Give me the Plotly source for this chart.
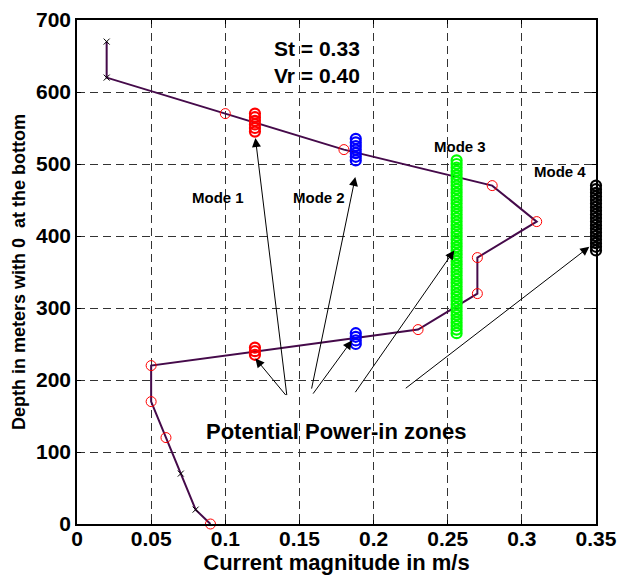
import plotly.graph_objects as go

# ---- data ----
path_x = [0.02, 0.02, 0.10, 0.18, 0.28, 0.31, 0.27, 0.27, 0.23, 0.05, 0.05, 0.06, 0.07, 0.08, 0.09]
path_y = [670, 620, 570, 520, 470, 420, 370, 320, 270, 220, 170, 120, 70, 20, 0]

circle_x = [0.10, 0.18, 0.28, 0.31, 0.27, 0.27, 0.23, 0.05, 0.05, 0.06, 0.09]
circle_y = [570, 520, 470, 420, 370, 320, 270, 220, 170, 120, 0]

cross_x = [0.02, 0.02, 0.07, 0.08]
cross_y = [670, 620, 70, 20]

mode1_x = 0.12
mode1_y = [545, 550, 555, 560, 565, 570, 235, 240, 245]
mode2_x = 0.188
mode2_y = [505, 510, 515, 520, 525, 530, 535, 250, 255, 260, 265]
mode3_x = 0.256
mode3_y = [265, 270, 275, 280, 285, 290, 295, 300, 305, 310, 315, 320, 325, 330,
           335, 340, 345, 350, 355, 360, 365, 370, 375, 380, 385, 390, 395, 400,
           405, 410, 415, 420, 425, 430, 435, 440, 445, 450, 455, 460, 465, 470,
           475, 480, 485, 490, 495, 500, 505]
mode4_x = 0.35
mode4_y = [380, 385, 390, 395, 400, 405, 410, 415, 420, 425, 430, 435, 440, 445,
           450, 455, 460, 465, 470]

x_ticks = [0, 0.05, 0.1, 0.15, 0.2, 0.25, 0.3, 0.35]
x_tick_text = ["0", "0.05", "0.1", "0.15", "0.2", "0.25", "0.3", "0.35"]
y_ticks = [0, 100, 200, 300, 400, 500, 600, 700]

# arrows: (tail_x, tail_y, head_x, head_y)
arrows = [
    (0.1416, 177, 0.1203, 536),
    (0.1416, 177, 0.1203, 230),
    (0.158, 186, 0.1877, 482),
    (0.1585, 179, 0.1854, 255),
    (0.187, 181, 0.2544, 380),
    (0.2207, 187, 0.3455, 385),
]

FONT = "Liberation Sans, Arial, sans-serif"
LINE_COLOR = "#450a4a"

fig = go.Figure()

fig.add_trace(go.Scatter(x=path_x, y=path_y, mode="lines",
                         line=dict(color=LINE_COLOR, width=2), showlegend=False))
fig.add_trace(go.Scatter(x=cross_x, y=cross_y, mode="markers",
                         marker=dict(symbol="x-thin", size=6, line=dict(color="black", width=1)),
                         showlegend=False))
fig.add_trace(go.Scatter(x=circle_x, y=circle_y, mode="markers",
                         marker=dict(symbol="circle-open", size=10, color="red", line=dict(width=1)),
                         showlegend=False, cliponaxis=False))

for mx, my, col in [(mode1_x, mode1_y, "#ff0000"), (mode2_x, mode2_y, "#0000ff"),
                    (mode3_x, mode3_y, "#00ff00"), (mode4_x, mode4_y, "#000000")]:
    fig.add_trace(go.Scatter(x=[mx] * len(my), y=my, mode="markers",
                             marker=dict(symbol="circle-open", size=10, color=col,
                                         line=dict(width=2.2)),
                             showlegend=False, cliponaxis=False))

annotations = []
for tx, ty, hx, hy in arrows:
    annotations.append(dict(x=hx, y=hy, ax=tx, ay=ty, xref="x", yref="y", axref="x", ayref="y",
                            text="", showarrow=True, arrowhead=2, arrowsize=1.8,
                            arrowwidth=1, arrowcolor="black", standoff=0))

bold = dict(family=FONT, color="black", weight="bold")
texts = [
    (0.1315, 660, "St = 0.33", 21, "left"),
    (0.1315, 623, "Vr = 0.40", 21, "left"),
    (0.095, 453, "Mode 1", 15, "center"),
    (0.163, 453, "Mode 2", 15, "center"),
    (0.258, 525, "Mode 3", 15, "center"),
    (0.326, 490, "Mode 4", 15, "center"),
    (0.1749, 128, "Potential Power-in zones", 22, "center"),
]
for x, y, t, s, al in texts:
    annotations.append(dict(x=x, y=y, xref="x", yref="y", text=t, showarrow=False,
                            xanchor=al, yanchor="middle", font=dict(size=s, **bold)))

fig.update_layout(
    width=618, height=577,
    margin=dict(l=77, r=22, t=20, b=53),
    paper_bgcolor="white", plot_bgcolor="white",
    annotations=annotations,
    font=dict(family=FONT, color="black"),
)
fig.update_xaxes(range=[0, 0.35], tickvals=x_ticks, ticktext=x_tick_text, automargin=False,
                 showgrid=True, gridcolor="#333333", griddash="8px,5px", gridwidth=1,
                 showline=True, linecolor="black", linewidth=1.5, mirror="ticks",
                 ticks="inside", ticklen=4, tickcolor="black", zeroline=False,
                 tickfont=dict(size=21, **bold), ticklabelstandoff=-5,
                 title=dict(text="Current magnitude in m/s", font=dict(size=22, **bold), standoff=4))
fig.update_yaxes(range=[0, 700], tickvals=y_ticks, automargin=False,
                 showgrid=True, gridcolor="#333333", griddash="8px,5px", gridwidth=1,
                 showline=True, linecolor="black", linewidth=1.5, mirror="ticks",
                 ticks="inside", ticklen=4, tickcolor="black", zeroline=False,
                 tickfont=dict(size=21, **bold),
                 title=dict(text="Depth in meters with 0&nbsp; at the bottom",
                            font=dict(size=18, **bold), standoff=6))

fig.write_html("out.html", config={"displayModeBar": False},
               post_script="document.body.style.margin='0px';document.body.style.overflow='hidden';")
